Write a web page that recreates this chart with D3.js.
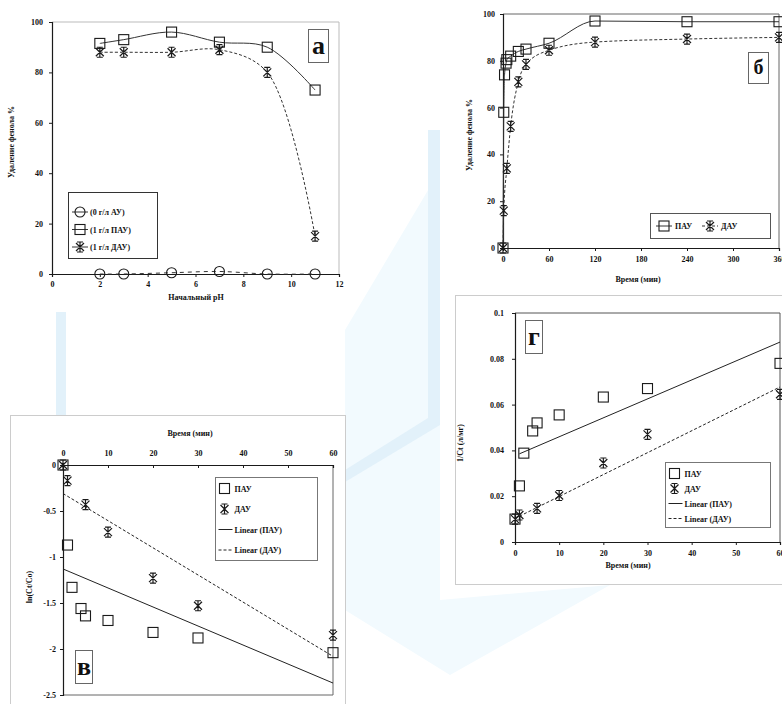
<!DOCTYPE html>
<html>
<head>
<meta charset="utf-8">
<script src="https://cdn.jsdelivr.net/npm/d3@7"></script>
<style>
body { margin: 0; background: #fff; }
svg text { font-family: "Liberation Serif", "Times New Roman", serif; font-weight: bold; fill: #111; }
</style>
</head>
<body>
<svg id="viz" width="782" height="704"></svg>
<script>
// panel а - removal vs initial pH
const phVals = [2, 3, 5, 7, 9, 11];
const au0 = [0, 0, 0.5, 1, 0, 0];
const pau1 = [91.5, 93, 96, 92, 90, 73];
const dau1 = [88, 88, 88, 89, 80, 15];
const legA = ['(0 г/л АУ)', '(1 г/л ПАУ)', '(1 г/л ДАУ)'];

// panel б - removal vs time
const tPau = [0, 1, 2, 4, 5, 10, 20, 30, 60, 120, 240, 360];
const remPau = [0, 58, 74, 79, 80.5, 82, 84, 85, 87.5, 97, 96.7, 96.7];
const tDau = [0, 1, 5, 10, 20, 30, 60, 120, 240, 360];
const remDau = [0, 16, 34, 52, 71, 78.5, 84.5, 88, 89.3, 90];

// panel в - ln(Ct/Co)
const tKinPau = [0, 1, 2, 4, 5, 10, 20, 30, 60];
const lnPau = [0, -0.87, -1.33, -1.56, -1.64, -1.69, -1.82, -1.88, -2.04];
const tKinDau = [0, 1, 5, 10, 20, 30, 60];
const lnDau = [0, -0.17, -0.43, -0.73, -1.23, -1.53, -1.85];
const lnFitPau = [[0, -1.13], [60, -2.37]];
const lnFitDau = [[0, -0.31], [60, -2.08]];

// panel г - 1/Ct
const invPau = [0.010, 0.0245, 0.0388, 0.0485, 0.052, 0.0555, 0.0633, 0.067, 0.078];
const invDau = [0.010, 0.0118, 0.0147, 0.0203, 0.0345, 0.047, 0.0645];
const invFitPau = [[1, 0.0385], [60, 0.0873]];
const invFitDau = [[0, 0.0103], [60, 0.0677]];
const legKin = ['ПАУ', 'ДАУ', 'Linear (ПАУ)', 'Linear (ДАУ)'];

// ticks
const ticksPh = [0, 2, 4, 6, 8, 10, 12];
const ticksPct = [0, 20, 40, 60, 80, 100];
const ticksTime = [0, 60, 120, 180, 240, 300, 360];
const ticksMin = [0, 10, 20, 30, 40, 50, 60];
const ticksLn = [0, -0.5, -1, -1.5, -2, -2.5];
const ticksLnLab = ['0', '-0.5', '-1', '-1.5', '-2', '-2.5'];
const ticksInv = [0, 0.02, 0.04, 0.06, 0.08, 0.1];
const ticksInvLab = ['0', '0.02', '0.04', '0.06', '0.08', '0.1'];

const svg = d3.select('#viz');
const ink = '#1a1a1a';

// faint watermark behind the panels
const wm = svg.append('g');
wm.append('path').attr('d', 'M345,330L440,170L440,600L610,585L450,675L345,610Z').attr('fill', '#f2fafe');
wm.append('rect').attr('x', 428).attr('y', 130).attr('width', 12).attr('height', 295).attr('fill', '#e2f1fa');
wm.append('path').attr('d', 'M428,418L440,425L345,482L345,470Z').attr('fill', '#e2f1fa');
wm.append('rect').attr('x', 56).attr('y', 300).attr('width', 10).attr('height', 115).attr('fill', '#e2f1fa');

// panel backgrounds
svg.append('rect').attr('x', 0).attr('y', 0).attr('width', 346).attr('height', 312).attr('fill', '#fff');
svg.append('rect').attr('x', 445).attr('y', 0).attr('width', 337).attr('height', 290).attr('fill', '#fff');
svg.append('rect').attr('x', 10.5).attr('y', 415.5).attr('width', 335).attr('height', 300).attr('fill', '#fff').attr('stroke', '#ccc');
svg.append('rect').attr('x', 455.5).attr('y', 295.5).attr('width', 340).attr('height', 289).attr('fill', '#fff').attr('stroke', '#ccc');

function marker(g, type, x, y) {
    if (type === 'sq') {
        g.append('rect').attr('x', x - 5).attr('y', y - 5).attr('width', 10).attr('height', 10)
            .attr('fill', 'none').attr('stroke', ink).attr('stroke-width', 1.1);
    } else if (type === 'ci') {
        g.append('circle').attr('cx', x).attr('cy', y).attr('r', 5)
            .attr('fill', 'none').attr('stroke', ink).attr('stroke-width', 1.1);
    } else {
        g.append('path').attr('d', `M${x-4},${y-4}L${x+4},${y+4}M${x-4},${y+4}L${x+4},${y-4}M${x},${y-5}L${x},${y+5}M${x-3},${y-5}L${x+3},${y-5}M${x-3},${y+5}L${x+3},${y+5}`)
            .attr('fill', 'none').attr('stroke', ink).attr('stroke-width', 1.2);
    }
}

function styleAxis(g) {
    g.selectAll('path').attr('stroke', ink).attr('stroke-width', 1.2);
    g.selectAll('line').attr('stroke', ink);
    g.selectAll('text').attr('font-size', 8).style('font-family', '"Liberation Serif", serif').style('font-weight', 'bold');
}

function series(g, xs, ys, xScale, yScale, type, dash, curve) {
    const pts = xs.map((d, i) => [xScale(d), yScale(ys[i])]);
    if (dash !== null) {
        g.append('path').attr('d', d3.line().curve(curve || d3.curveLinear)(pts))
            .attr('fill', 'none').attr('stroke', '#333').attr('stroke-width', 1)
            .attr('stroke-dasharray', dash);
    }
    pts.forEach(p => marker(g, type, p[0], p[1]));
}

function fitLine(g, pts, xScale, yScale, dash) {
    g.append('line')
        .attr('x1', xScale(pts[0][0])).attr('y1', yScale(pts[0][1]))
        .attr('x2', xScale(pts[1][0])).attr('y2', yScale(pts[1][1]))
        .attr('stroke', '#222').attr('stroke-width', 1).attr('stroke-dasharray', dash);
}

function vLabel(x, y, txt) {
    svg.append('text').attr('transform', `translate(${x},${y}) rotate(-90)`)
        .attr('text-anchor', 'middle').attr('font-size', 8).text(txt);
}

function letterBox(x, y, w, h, txt, fs) {
    svg.append('rect').attr('x', x).attr('y', y).attr('width', w).attr('height', h)
        .attr('fill', '#fff').attr('stroke', '#666').attr('stroke-width', 1);
    svg.append('text').attr('x', x + w / 2).attr('y', y + h / 2 + fs * 0.3)
        .attr('text-anchor', 'middle').attr('font-size', fs).text(txt);
}

const smooth = d3.curveCatmullRom.alpha(0.5);

// ---------- panel а ----------
const xA = d3.scaleLinear().domain([0, 12]).range([52, 339]);
const yA = d3.scaleLinear().domain([0, 100]).range([274, 22]);
svg.append('path').attr('d', `M${xA(0)},${yA(100)}H${xA(12)}V${yA(0)}`).attr('fill', 'none').attr('stroke', '#bbb');
styleAxis(svg.append('g').attr('transform', `translate(0,${yA(0)})`)
    .call(d3.axisBottom(xA).tickValues(ticksPh).tickSize(3).tickPadding(4)));
styleAxis(svg.append('g').attr('transform', `translate(${xA(0)},0)`)
    .call(d3.axisLeft(yA).tickValues(ticksPct).tickSize(3).tickPadding(6)));
const gA = svg.append('g');
series(gA, phVals, au0, xA, yA, 'ci', '4,4', smooth);
series(gA, phVals, pau1, xA, yA, 'sq', 'none', smooth);
series(gA, phVals, dau1, xA, yA, 'st', '3,2', smooth);
svg.append('text').attr('x', 196).attr('y', 300).attr('text-anchor', 'middle').attr('font-size', 8).text('Начальный pH');
vLabel(14, 142, 'Удаление фенола %');
letterBox(308.5, 29.5, 20, 33, 'а', 26);
// legend а
const lgA = svg.append('g');
lgA.append('rect').attr('x', 68.5).attr('y', 192.5).attr('width', 89).attr('height', 66)
    .attr('fill', '#fff').attr('stroke', '#333');
['ci', 'sq', 'st'].forEach((t, i) => {
    const yy = 212 + i * 17.5;
    lgA.append('line').attr('x1', 72).attr('x2', 88).attr('y1', yy).attr('y2', yy).attr('stroke', '#333');
    marker(lgA, t, 80, yy);
    lgA.append('text').attr('x', 90).attr('y', yy + 3).attr('font-size', 8).text(legA[i]);
});

// ---------- panel б ----------
const xB = d3.scaleLinear().domain([0, 360]).range([503, 779]);
const yB = d3.scaleLinear().domain([0, 100]).range([248, 14]);
svg.append('path').attr('d', `M${xB(0)},${yB(100)}H${xB(360)}V${yB(0)}`).attr('fill', 'none').attr('stroke', '#666');
styleAxis(svg.append('g').attr('transform', `translate(0,${yB(0)})`)
    .call(d3.axisBottom(xB).tickValues(ticksTime).tickSize(3).tickPadding(5)));
styleAxis(svg.append('g').attr('transform', `translate(${xB(0)},0)`)
    .call(d3.axisLeft(yB).tickValues(ticksPct).tickSize(3).tickPadding(5)));
const gB = svg.append('g');
series(gB, tPau, remPau, xB, yB, 'sq', 'none', d3.curveMonotoneX);
series(gB, tDau, remDau, xB, yB, 'st', '3,2', d3.curveMonotoneX);
svg.append('text').attr('x', 638).attr('y', 282).attr('text-anchor', 'middle').attr('font-size', 8).text('Время (мин)');
vLabel(472, 135, 'Удаление фенола %');
letterBox(748.5, 52.5, 20, 31, 'б', 20);
const lgB = svg.append('g');
lgB.append('rect').attr('x', 650.5).attr('y', 213.5).attr('width', 120).attr('height', 25)
    .attr('fill', '#fff').attr('stroke', '#555');
[['sq', 'ПАУ', 'none'], ['st', 'ДАУ', '3,2']].forEach((e, i) => {
    const x0 = 656 + i * 46;
    lgB.append('line').attr('x1', x0).attr('x2', x0 + 16).attr('y1', 226).attr('y2', 226)
        .attr('stroke', '#333').attr('stroke-dasharray', e[2]);
    marker(lgB, e[0], x0 + 8, 226);
    lgB.append('text').attr('x', x0 + 19).attr('y', 229).attr('font-size', 8).text(e[1]);
});

// ---------- panel в ----------
const xV = d3.scaleLinear().domain([0, 60]).range([63, 333]);
const yV = d3.scaleLinear().domain([-2.5, 0]).range([695, 465]);
svg.append('path').attr('d', `M${xV(60)},${yV(0)}V${yV(-2.5)}H${xV(0)}`).attr('fill', 'none').attr('stroke', '#666');
styleAxis(svg.append('g').attr('transform', `translate(0,${yV(0)})`)
    .call(d3.axisTop(xV).tickValues(ticksMin).tickSize(-3).tickPadding(9)));
styleAxis(svg.append('g').attr('transform', `translate(${xV(0)},0)`)
    .call(d3.axisLeft(yV).tickValues(ticksLn).tickFormat((d, i) => ticksLnLab[i]).tickSize(3).tickPadding(4)));
const gV = svg.append('g');
fitLine(gV, lnFitPau, xV, yV, 'none');
fitLine(gV, lnFitDau, xV, yV, '3,2');
series(gV, tKinPau, lnPau, xV, yV, 'sq', null);
series(gV, tKinDau, lnDau, xV, yV, 'st', null);
svg.append('text').attr('x', 190).attr('y', 436).attr('text-anchor', 'middle').attr('font-size', 8).text('Время (мин)');
vLabel(32, 587, 'ln(Ct/Co)');
letterBox(75.5, 650.5, 17, 33, 'в', 26);

function kinLegend(x, y, w, h, step) {
    const lg = svg.append('g');
    lg.append('rect').attr('x', x).attr('y', y).attr('width', w).attr('height', h)
        .attr('fill', '#fff').attr('stroke', '#777');
    legKin.forEach((t, i) => {
        const yy = y + 11 + i * step;
        if (i < 2) marker(lg, i === 0 ? 'sq' : 'st', x + 9, yy);
        else lg.append('line').attr('x1', x + 3).attr('x2', x + 17).attr('y1', yy).attr('y2', yy)
            .attr('stroke', '#222').attr('stroke-dasharray', i === 2 ? 'none' : '3,2');
        lg.append('text').attr('x', x + 19).attr('y', yy + 3).attr('font-size', 8).text(t);
    });
}
kinLegend(215.5, 477.5, 102, 83, 20.5);

// ---------- panel г ----------
const xG = d3.scaleLinear().domain([0, 60]).range([515, 780]);
const yG = d3.scaleLinear().domain([0, 0.1]).range([542, 313]);
svg.append('path').attr('d', `M${xG(0)},${yG(0.1)}H${xG(60)}V${yG(0)}`).attr('fill', 'none').attr('stroke', '#555');
styleAxis(svg.append('g').attr('transform', `translate(0,${yG(0)})`)
    .call(d3.axisBottom(xG).tickValues(ticksMin).tickSize(3).tickPadding(5)));
styleAxis(svg.append('g').attr('transform', `translate(${xG(0)},0)`)
    .call(d3.axisLeft(yG).tickValues(ticksInv).tickFormat((d, i) => ticksInvLab[i]).tickSize(3).tickPadding(8)));
const gG = svg.append('g');
fitLine(gG, invFitPau, xG, yG, 'none');
fitLine(gG, invFitDau, xG, yG, '3,2');
series(gG, tKinPau, invPau, xG, yG, 'sq', null);
series(gG, tKinDau, invDau, xG, yG, 'st', null);
svg.append('text').attr('x', 628).attr('y', 568).attr('text-anchor', 'middle').attr('font-size', 8).text('Время (мин)');
vLabel(463, 443, '1/Ct (л/мг)');
letterBox(525.5, 320.5, 17, 33, 'г', 26);
kinLegend(665.5, 462.5, 105, 65, 15);
</script>
</body>
</html>
